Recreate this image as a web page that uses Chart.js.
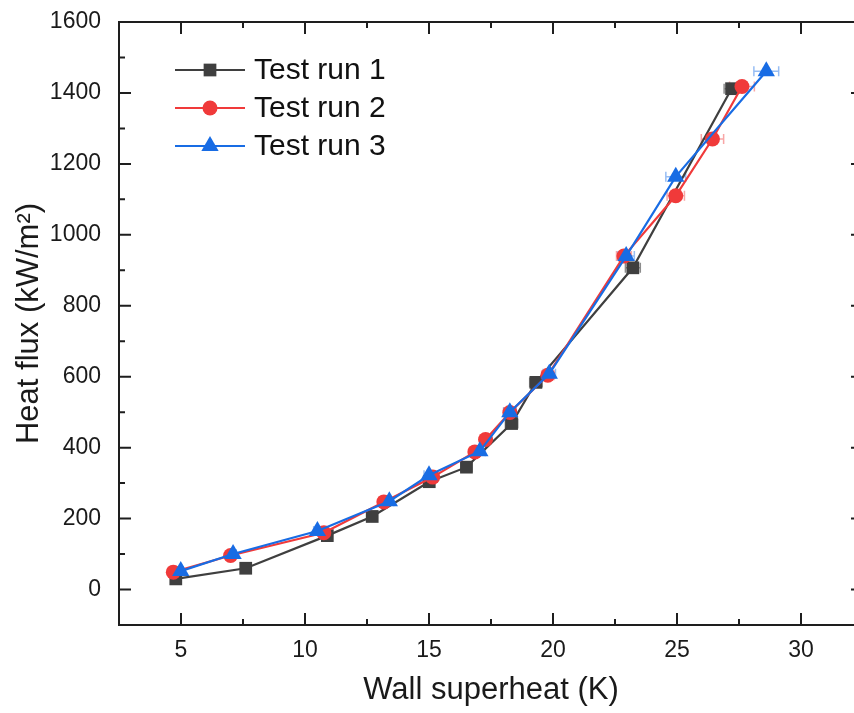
<!DOCTYPE html>
<html>
<head>
<meta charset="utf-8">
<script src="https://cdn.jsdelivr.net/npm/chart.js@4.4.1/dist/chart.umd.min.js"></script>
<style>
    html, body { margin: 0; padding: 0; background: #fff; overflow: hidden; }
    #wrap { width: 873px; height: 713px; }
</style>
</head>
<body>
<div id="wrap"><canvas id="myChart" width="873" height="713"></canvas></div>
<script>
// axis ticks
var xTickLabels = [5, 10, 15, 20, 25, 30];
var yTickLabels = [0, 200, 400, 600, 800, 1000, 1200, 1400, 1600];

var seriesNames = ['Test run 1', 'Test run 2', 'Test run 3'];

// Test run 1 (wall superheat K, heat flux kW/m2, x error K)
var run1X = [4.79, 7.61, 10.9, 12.71, 15.01, 16.51, 18.33, 19.31, 23.22, 27.2];
var run1Y = [30, 60, 152, 206, 304, 345, 468, 584, 907, 1412];
var run1Err = [0.1, 0.12, 0.15, 0.18, 0.2, 0.22, 0.25, 0.25, 0.3, 0.3];

// Test run 2
var run2X = [4.69, 7.0, 10.76, 13.18, 15.15, 16.85, 17.28, 18.26, 19.79, 22.86, 24.95, 26.43, 27.62];
var run2Y = [49, 96, 160, 247, 317, 388, 423, 499, 604, 940, 1110, 1270, 1418];
var run2Err = [0.1, 0.12, 0.15, 0.18, 0.2, 0.22, 0.22, 0.25, 0.25, 0.3, 0.35, 0.45, 0.5];

// Test run 3
var run3X = [4.99, 7.1, 10.5, 13.4, 15.0, 17.05, 18.26, 19.85, 22.95, 24.95, 28.6];
var run3Y = [52, 100, 165, 249, 322, 390, 500, 608, 940, 1164, 1461];
var run3Err = [0.1, 0.12, 0.15, 0.18, 0.2, 0.22, 0.25, 0.25, 0.33, 0.4, 0.5];

var colors = ['#3f3f3f', 'rgb(240,58,58)', 'rgb(24,108,228)'];
var errColors = ['rgba(63,63,63,0.6)', 'rgba(240,58,58,0.45)', 'rgba(24,108,228,0.45)'];
var shapes = ['rect', 'circle', 'triangle'];
var radii = [9, 7.5, 10];
var font = '"Liberation Sans", Arial, sans-serif';

function makePoints(xs, ys, errs) {
    var pts = [];
    for (var i = 0; i < xs.length; i++) {
        pts.push({x: xs[i], y: ys[i], xErr: errs[i]});
    }
    return pts;
}

var allData = [
    makePoints(run1X, run1Y, run1Err),
    makePoints(run2X, run2Y, run2Err),
    makePoints(run3X, run3Y, run3Err)
];

var datasets = [];
for (var s = 0; s < 3; s++) {
    datasets.push({
        label: seriesNames[s],
        data: allData[s],
        showLine: true,
        borderColor: colors[s],
        backgroundColor: colors[s],
        borderWidth: 2.2,
        pointStyle: shapes[s],
        pointRadius: radii[s],
        pointBackgroundColor: colors[s],
        pointBorderColor: colors[s],
        pointBorderWidth: 0,
        tension: 0,
        order: 3 - s
    });
}

// draws the horizontal error bars under the markers
var errorBars = {
    id: 'errorBars',
    beforeDatasetsDraw: function(chart) {
        var ctx = chart.ctx;
        var xs = chart.scales.x, ys = chart.scales.y;
        ctx.save();
        ctx.lineWidth = 1.5;
        for (var s = 0; s < chart.data.datasets.length; s++) {
            ctx.strokeStyle = errColors[s];
            var pts = chart.data.datasets[s].data;
            for (var i = 0; i < pts.length; i++) {
                var y = ys.getPixelForValue(pts[i].y);
                var x1 = xs.getPixelForValue(pts[i].x - pts[i].xErr);
                var x2 = xs.getPixelForValue(pts[i].x + pts[i].xErr);
                ctx.beginPath();
                ctx.moveTo(x1, y); ctx.lineTo(x2, y);
                ctx.moveTo(x1, y - 5); ctx.lineTo(x1, y + 5);
                ctx.moveTo(x2, y - 5); ctx.lineTo(x2, y + 5);
                ctx.stroke();
            }
        }
        ctx.restore();
    }
};

// box frame with inward ticks on all four sides
var frame = {
    id: 'frame',
    afterDraw: function(chart) {
        var ctx = chart.ctx, a = chart.chartArea;
        var xs = chart.scales.x, ys = chart.scales.y;
        ctx.save();
        ctx.strokeStyle = '#1e1e1e';
        ctx.lineWidth = 2;
        ctx.strokeRect(a.left, a.top, a.right - a.left, a.bottom - a.top);
        ctx.beginPath();
        var v, p, len;
        for (v = 2.5; v <= 32.5; v += 2.5) {
            p = xs.getPixelForValue(v);
            len = (v % 5 === 0) ? 12 : 6;
            ctx.moveTo(p, a.bottom); ctx.lineTo(p, a.bottom - len);
            ctx.moveTo(p, a.top); ctx.lineTo(p, a.top + len);
        }
        for (v = -100; v <= 1600; v += 100) {
            p = ys.getPixelForValue(v);
            len = (v % 200 === 0) ? 12 : 6;
            ctx.moveTo(a.left, p); ctx.lineTo(a.left + len, p);
            ctx.moveTo(a.right, p); ctx.lineTo(a.right - len, p);
        }
        ctx.stroke();
        ctx.restore();
    }
};

function drawMarker(ctx, shape, r, x, y) {
    ctx.beginPath();
    if (shape === 'rect') {
        var h = r * Math.SQRT1_2;
        ctx.rect(x - h, y - h, 2 * h, 2 * h);
    } else if (shape === 'circle') {
        ctx.arc(x, y, r, 0, Math.PI * 2);
    } else {
        var w = r * Math.sqrt(3) / 2;
        ctx.moveTo(x, y - r);
        ctx.lineTo(x + w, y + r / 2);
        ctx.lineTo(x - w, y + r / 2);
        ctx.closePath();
    }
    ctx.fill();
}

var insideLegend = {
    id: 'insideLegend',
    afterDraw: function(chart) {
        var ctx = chart.ctx;
        ctx.save();
        ctx.font = '30px ' + font;
        ctx.textBaseline = 'middle';
        for (var s = 0; s < 3; s++) {
            var y = 70 + s * 38;
            ctx.strokeStyle = colors[s];
            ctx.fillStyle = colors[s];
            ctx.lineWidth = 2.2;
            ctx.beginPath();
            ctx.moveTo(175, y); ctx.lineTo(245, y);
            ctx.stroke();
            drawMarker(ctx, shapes[s], radii[s], 210, y);
            ctx.fillStyle = '#111';
            ctx.fillText(seriesNames[s], 254, y + 1);
        }
        ctx.restore();
    }
};

var ctx = document.getElementById('myChart');
var myChart = new Chart(ctx, {
    type: 'scatter',
    data: { datasets: datasets },
    plugins: [errorBars, frame, insideLegend],
    options: {
        responsive: false,
        animation: false,
        events: [],
        layout: { padding: { top: 22, right: 3, left: 0, bottom: 0 } },
        plugins: {
            legend: { display: false },
            tooltip: { enabled: false }
        },
        scales: {
            x: {
                type: 'linear',
                min: 2.5,
                max: 32.5,
                grid: { display: false, drawTicks: false },
                border: { display: false },
                afterBuildTicks: function(scale) {
                    scale.ticks = xTickLabels.map(function(v) { return {value: v}; });
                },
                afterFit: function(scale) {
                    scale.height = 88;
                    scale.paddingLeft = 0;
                    scale.paddingRight = 0;
                },
                ticks: {
                    padding: 12,
                    maxRotation: 0,
                    color: '#1a1a1a',
                    font: { family: font, size: 23 },
                    callback: function(v) { return String(v); }
                },
                title: {
                    display: true,
                    text: 'Wall superheat (K)',
                    color: '#1a1a1a',
                    padding: { top: 0, bottom: 4 },
                    font: { family: font, size: 31 }
                }
            },
            y: {
                type: 'linear',
                min: -100,
                max: 1600,
                grid: { display: false, drawTicks: false },
                border: { display: false },
                afterBuildTicks: function(scale) {
                    scale.ticks = yTickLabels.map(function(v) { return {value: v}; });
                },
                afterFit: function(scale) {
                    scale.width = 119;
                    scale.paddingTop = 0;
                    scale.paddingBottom = 0;
                },
                ticks: {
                    padding: 18,
                    color: '#1a1a1a',
                    font: { family: font, size: 23 },
                    callback: function(v) { return String(v); }
                },
                title: {
                    display: true,
                    text: 'Heat flux (kW/m²)',
                    color: '#1a1a1a',
                    padding: { top: 11, bottom: 0 },
                    font: { family: font, size: 31 }
                }
            }
        }
    }
});
</script>
</body>
</html>
